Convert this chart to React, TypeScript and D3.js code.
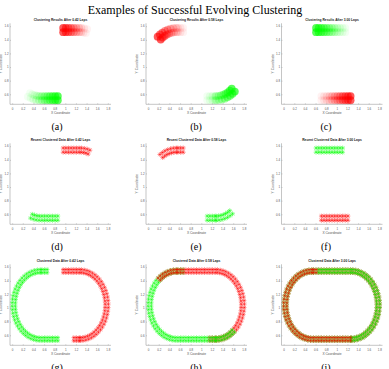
import React from "react";
import * as d3 from "d3";

// Recorded positions along the track (counter-clockwise, starting on the top straight)
const trackX = [
  1.25, 1.2, 1.15, 1.1, 1.05, 1.0, 0.95, 0.9, 0.85, 0.8, 0.75, 0.7, 0.65, 0.6, 0.55,
  0.52, 0.47, 0.421, 0.372, 0.325, 0.28, 0.238, 0.198, 0.161, 0.128, 0.099, 0.074, 0.054, 0.038, 0.027, 0.021,
  0.02, 0.024, 0.033, 0.047, 0.065, 0.088, 0.116, 0.147, 0.182, 0.221, 0.262, 0.306, 0.353, 0.4, 0.449, 0.499,
  0.55, 0.6, 0.65, 0.7, 0.75, 0.8, 0.85, 0.9, 0.95, 1.0, 1.05, 1.1, 1.15, 1.2, 1.25,
  1.27, 1.32, 1.369, 1.418, 1.465, 1.51, 1.552, 1.592, 1.629, 1.662, 1.691, 1.716, 1.736, 1.752, 1.763, 1.769,
  1.77, 1.766, 1.757, 1.743, 1.725, 1.702, 1.674, 1.643, 1.608, 1.569, 1.528, 1.484, 1.437, 1.39, 1.341, 1.291,
];
const trackY = [
  1.55, 1.55, 1.55, 1.55, 1.55, 1.55, 1.55, 1.55, 1.55, 1.55, 1.55, 1.55, 1.55, 1.55, 1.55,
  1.55, 1.548, 1.54, 1.528, 1.511, 1.489, 1.463, 1.432, 1.398, 1.361, 1.32, 1.277, 1.231, 1.184, 1.135, 1.085,
  1.035, 0.986, 0.936, 0.888, 0.842, 0.798, 0.756, 0.717, 0.681, 0.649, 0.622, 0.598, 0.579, 0.565, 0.555, 0.55,
  0.55, 0.55, 0.55, 0.55, 0.55, 0.55, 0.55, 0.55, 0.55, 0.55, 0.55, 0.55, 0.55, 0.55, 0.55,
  0.55, 0.552, 0.56, 0.572, 0.589, 0.611, 0.637, 0.668, 0.702, 0.739, 0.78, 0.823, 0.869, 0.916, 0.965, 1.015,
  1.065, 1.114, 1.164, 1.212, 1.258, 1.302, 1.344, 1.383, 1.419, 1.451, 1.478, 1.502, 1.521, 1.536, 1.545, 1.55,
];

const lapLabels = ["0.42", "0.58", "3.00"];
const rowTitles = ["Clustering Results After", "Recent Clustered Data After", "Clustered Data After"];
const captions = [
  ["(a)", "(b)", "(c)"],
  ["(d)", "(e)", "(f)"],
  ["(g)", "(h)", "(i)"],
];
const xTicks = [0, 0.2, 0.4, 0.6, 0.8, 1, 1.2, 1.4, 1.6, 1.8];
const yTicks = [0.6, 0.8, 1, 1.2, 1.4, 1.6];

// Segments of track samples per panel: [cluster, first index, last index]
type Seg = [string, number, number];
const clusteringWindows: Seg[][] = [
  [["g", 42, 53], ["r", 91, 100]],
  [["g", 58, 69], ["r", 12, 22]],
  [["g", 2, 13], ["r", 50, 61]],
];
const recentWindows: Seg[][] = [
  [["g", 43, 53], ["r", 90, 100]],
  [["g", 58, 68], ["r", 12, 21]],
  [["g", 3, 13], ["r", 50, 60]],
];
const clusteredSegments: Seg[][] = [
  [["g", 12, 53], ["r", 59, 100]],
  [["g", 12, 58], ["r", 59, 116], ["g", 59, 69]],
  [["r", 62, 106], ["g", 0, 93], ["r", 13, 61]],
];

const COLORS: Record<string, string> = { r: "#ff0000", g: "#00ff00" };
const FONT = "'Liberation Sans', Arial, Helvetica, sans-serif";

const colLeft = [10, 146, 281.5];
const rowTop = [23.3, 143.3, 264.3];
const captionX = [57, 196, 326];
const plotW = 101;
const plotH = 81;

const N = trackX.length;

function starPath(h: number) {
  const k = h * 0.707;
  return `M${-h},0L${h},0M0,${-h}L0,${h}M${-k},${-k}L${k},${k}M${-k},${k}L${k},${-k}`;
}

function Panel({ row, col }: { row: number; col: number }) {
  const left = colLeft[col];
  const top = rowTop[row];
  const x = d3.scaleLinear().domain([-0.05, 1.85]).range([0, plotW]);
  const y = d3.scaleLinear().domain([0.46, 1.65]).range([plotH, 0]);

  const normalAt = (i: number) => {
    const a = (i - 1 + N) % N;
    const b = (i + 1) % N;
    const dx = x(trackX[b]) - x(trackX[a]);
    const dy = y(trackY[b]) - y(trackY[a]);
    const len = Math.hypot(dx, dy) || 1;
    return [-dy / len, dx / len];
  };

  const marks: React.ReactNode[] = [];
  const segs = row === 0 ? clusteringWindows[col] : row === 1 ? recentWindows[col] : clusteredSegments[col];
  const lanes = row === 0 ? [-2.1, 2.1] : row === 1 ? [-2.1, 2.1] : [-1.6, 1.6];
  const star = starPath(row === 1 ? 2.4 : 2.2);

  segs.forEach(([c, from, to], si) => {
    const n = to - from + 1;
    for (let t = from; t <= to; t++) {
      const i = t % N;
      const [nx, ny] = normalAt(i);
      const age = n > 1 ? (t - from) / (n - 1) : 1;
      lanes.forEach((off, li) => {
        const px = x(trackX[i]) + nx * off;
        const py = y(trackY[i]) + ny * off;
        const key = `${si}-${t}-${li}`;
        if (row === 0) {
          const alpha = 0.05 + 0.6 * Math.pow(age, 1.5);
          marks.push(
            <circle key={key} cx={px} cy={py} r={3.9} fill={COLORS[c]} fillOpacity={alpha} />
          );
        } else {
          marks.push(
            <path
              key={key}
              d={star}
              transform={`translate(${px},${py})`}
              stroke={COLORS[c]}
              strokeWidth={0.55}
              strokeOpacity={0.85}
              fill="none"
            />
          );
        }
      });
    }
  });

  const axisColor = "#8a8a8a";
  const textColor = "#555";
  return (
    <g transform={`translate(${left},${top})`}>
      <text
        x={plotW / 2}
        y={-3.3}
        fontFamily={FONT}
        fontSize={3.3}
        fontWeight="bold"
        textAnchor="middle"
        dominantBaseline="middle"
        fill="#222"
      >
        {`${rowTitles[row]} ${lapLabels[col]} Laps`}
      </text>
      {marks}
      <line x1={0} y1={plotH} x2={plotW} y2={plotH} stroke={axisColor} strokeWidth={0.5} />
      <line x1={0} y1={0} x2={0} y2={plotH} stroke={axisColor} strokeWidth={0.5} />
      {xTicks.map((v) => (
        <g key={`xt${v}`}>
          <line x1={x(v)} x2={x(v)} y1={plotH} y2={plotH - 1} stroke={axisColor} strokeWidth={0.4} />
          <text
            x={x(v)}
            y={plotH + 4.6}
            fontFamily={FONT}
            fontSize={2.9}
            textAnchor="middle"
            dominantBaseline="middle"
            fill={textColor}
          >
            {String(v)}
          </text>
        </g>
      ))}
      {yTicks.map((v) => (
        <g key={`yt${v}`}>
          <line x1={0} x2={1} y1={y(v)} y2={y(v)} stroke={axisColor} strokeWidth={0.4} />
          <text
            x={-1.5}
            y={y(v)}
            fontFamily={FONT}
            fontSize={2.9}
            textAnchor="end"
            dominantBaseline="middle"
            fill={textColor}
          >
            {String(v)}
          </text>
        </g>
      ))}
      <text
        x={plotW / 2}
        y={plotH + 8.8}
        fontFamily={FONT}
        fontSize={3.3}
        textAnchor="middle"
        dominantBaseline="middle"
        fill={textColor}
      >
        X Coordinate
      </text>
      <text
        transform={`translate(${-8.5},${plotH / 2}) rotate(-90)`}
        fontFamily={FONT}
        fontSize={3.3}
        textAnchor="middle"
        dominantBaseline="middle"
        fill={textColor}
      >
        Y Coordinate
      </text>
    </g>
  );
}

export default function App() {
  return (
    <div style={{ position: "fixed", left: 0, top: 0 }}>
      <svg width={389} height={369} style={{ display: "block", background: "#fff" }}>
        <rect width={389} height={369} fill="#fff" />
        <text
          x={195}
          y={13.5}
          fontFamily="'Liberation Serif', 'Times New Roman', serif"
          fontSize={12}
          textAnchor="middle"
          fill="#000"
        >
          Examples of Successful Evolving Clustering
        </text>
        {[0, 1, 2].map((row) =>
          [0, 1, 2].map((col) => (
            <g key={`${row}-${col}`}>
              <Panel row={row} col={col} />
              <text
                x={captionX[col]}
                y={rowTop[row] + plotH + 23}
                fontFamily="'Liberation Serif', 'Times New Roman', serif"
                fontSize={10}
                textAnchor="middle"
                dominantBaseline="middle"
                fill="#000"
              >
                {captions[row][col]}
              </text>
            </g>
          ))
        )}
      </svg>
    </div>
  );
}
